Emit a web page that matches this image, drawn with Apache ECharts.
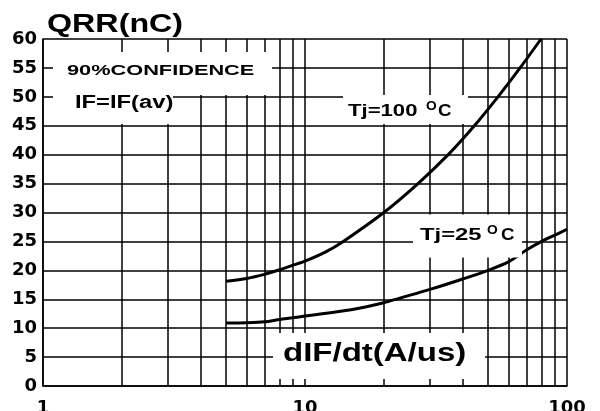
<!DOCTYPE html>
<html>
<head>
<meta charset="UTF-8">
<title>QRR vs dIF/dt</title>
<script src="https://cdn.jsdelivr.net/npm/echarts@6/dist/echarts.min.js"></script>
<style>
    html, body, #chart {
        width: 100%;
        height: 100%;
        margin: 0;
        padding: 0;
    }
    body { overflow: hidden; background: #fff; }
</style>
</head>
<body>
<div id="chart"></div>
<script>
    // dIF/dt (A/us), QRR (nC)
    const tj100 = [
        [5, 18.1], [6, 18.6], [7, 19.3], [8, 20.1], [9, 20.9], [10, 21.6],
        [12, 23.2], [14, 25], [20, 30], [27, 35], [35.2, 40], [44.3, 45],
        [54.5, 50], [66.2, 55], [79.6, 60]
    ];
    const tj25 = [
        [5, 10.9], [6, 10.95], [7, 11.1], [8, 11.5], [9, 11.8], [10, 12.1],
        [15, 13.2], [20, 14.4], [23, 15.2], [30, 16.7], [40, 18.5], [50, 20],
        [60, 21.5], [70, 23.5], [80, 25], [90, 26.1], [100, 27.1]
    ];
    // vertical grid lines between the decades
    const minorGridX = [2, 3, 4, 5, 6, 7, 8, 9, 20, 30, 40, 50, 60, 70, 80, 90];

    const chart = echarts.init(document.getElementById('chart'));

    const f = s => 'bold ' + s + 'px "Liberation Sans", Arial, sans-serif';

    // white boxes behind the annotations (they cut the grid lines)
    function box(x, y, w, h) {
        return { type: 'rect', z: 100, silent: true,
                 shape: { x: x, y: y, width: w, height: h },
                 style: { fill: '#fff' } };
    }
    function txt(x, y, sx, size, text) {
        return { type: 'text', z: 101, silent: true, x: x, y: y, scaleX: sx,
                 style: { text: text, font: f(size), fill: '#000',
                          verticalAlign: 'middle', align: 'left' } };
    }

    const option = {
        backgroundColor: '#fff',
        animation: false,
        grid: { left: 43, right: 33, top: 39, bottom: 25, containLabel: false, outerBoundsMode: 'none' },
        xAxis: {
            type: 'log',
            logBase: 10,
            min: 1,
            max: 100,
            axisLine: { lineStyle: { color: '#000', width: 1.5 } },
            axisTick: { show: false },
            axisLabel: { color: '#000', fontFamily: 'DejaVu Sans', fontWeight: 'bold', fontSize: 18, margin: 13 },
            splitLine: { show: true, lineStyle: { color: '#000', width: 1.5 } },
            minorTick: { show: false },
            minorSplitLine: { show: false }
        },
        yAxis: {
            type: 'value',
            min: 0,
            max: 60,
            interval: 5,
            axisLine: { show: true, lineStyle: { color: '#000', width: 1.5 } },
            axisTick: { show: false },
            axisLabel: { color: '#000', fontFamily: 'DejaVu Sans', fontWeight: 'bold', fontSize: 18, margin: 6 },
            splitLine: { show: true, lineStyle: { color: '#000', width: 1.5 } }
        },
        series: [
            {
                name: 'Tj=100',
                type: 'line',
                data: tj100,
                smooth: 0.3,
                showSymbol: false,
                lineStyle: { color: '#000', width: 3 }
            },
            {
                name: 'Tj=25',
                type: 'line',
                data: tj25,
                smooth: 0.3,
                showSymbol: false,
                lineStyle: { color: '#000', width: 3 },
                markLine: {
                    silent: true,
                    symbol: ['none', 'none'],
                    label: { show: false },
                    lineStyle: { color: '#000', width: 1.5, type: 'solid' },
                    emphasis: { disabled: true },
                    data: minorGridX.map(v => ({ xAxis: v }))
                }
            }
        ],
        graphic: [
            box(53, 52, 219, 43),
            box(53, 90, 120, 34),
            box(343, 95, 125, 29),
            box(413, 214.5, 109, 43),
            box(273, 333, 212, 46),
            txt(47, 25, 1.24, 26, 'QRR(nC)'),
            txt(67, 70.5, 1.45, 15, '90%CONFIDENCE'),
            txt(75, 103.5, 1.32, 18, 'IF=IF(av)'),
            txt(348, 111.5, 1.3, 17, 'Tj=100'),
            txt(426, 107, 1.15, 12, 'O'),
            txt(438, 111.5, 1.1, 17, 'C'),
            txt(420, 235.5, 1.4, 17, 'Tj=25'),
            txt(487, 231, 1.15, 12, 'O'),
            txt(501, 235.5, 1.1, 17, 'C'),
            txt(283, 354, 1.32, 25, 'dIF/dt(A/us)')
        ]
    };

    chart.setOption(option);
    window.addEventListener('resize', function () {
        chart.resize();
    });
</script>
</body>
</html>
